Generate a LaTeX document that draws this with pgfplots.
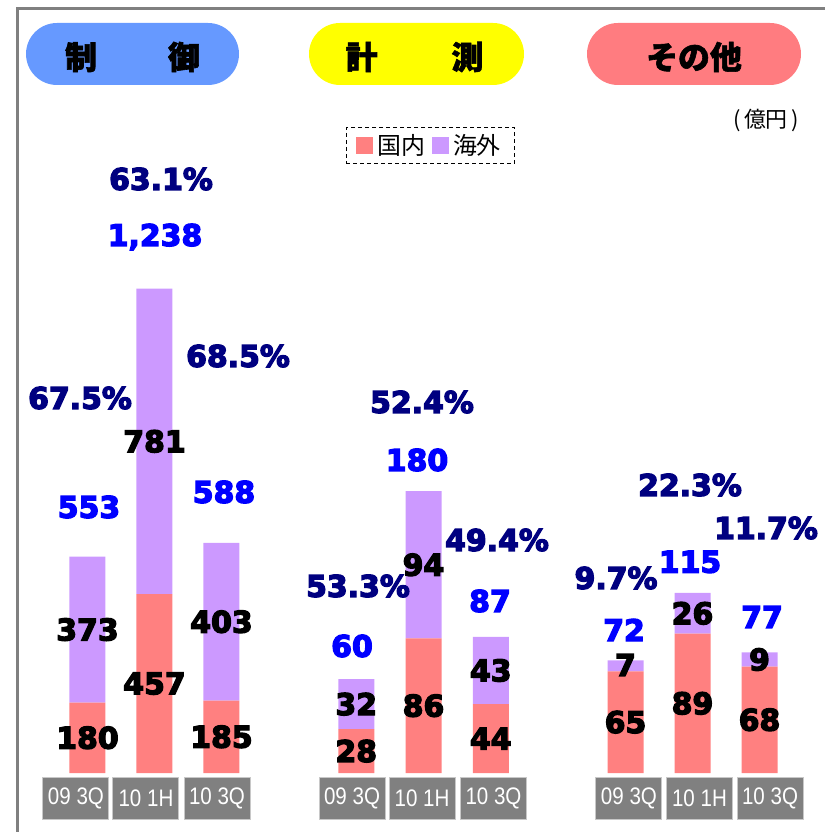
\documentclass[border=0pt]{standalone}
\usepackage{pgfplots}
\pgfplotsset{compat=1.18}
\usepackage{fontspec}
\setmainfont{Liberation Sans}
\newfontfamily\numfont{DejaVu Sans}
\newfontfamily\cjk{Noto Sans CJK JP}
\newfontfamily\narrow{Liberation Sans}[FakeStretch=0.86]
\definecolor{dom}{HTML}{FF8080}
\definecolor{ovs}{HTML}{CC99FF}
\definecolor{pct}{HTML}{000080}
\definecolor{tot}{HTML}{0000FF}
\definecolor{pillblue}{HTML}{6699FF}
\definecolor{pillyellow}{HTML}{FFFF00}
\definecolor{pillpink}{HTML}{FF7C80}
\definecolor{framegray}{HTML}{808080}
\definecolor{boxgray}{HTML}{808080}
\definecolor{boxedge}{HTML}{C8C8C8}
\newcommand{\nf}{\numfont\bfseries\fontsize{30}{31}\selectfont}
% heavier strokes: fill + stroke text rendering (stroke colour given explicitly)
\newcommand{\hv}[2][0 0 0]{\special{pdf:literal direct 2 Tr 1.3 w #1 RG}#2\special{pdf:literal direct 0 Tr}}
\newcommand{\hvc}[1]{\special{pdf:literal direct 2 Tr 0.6 w 0 0 0 RG}#1\special{pdf:literal direct 0 Tr}}
\newcommand{\hvb}[1]{\hv[0 0 1]{#1}}
\newcommand{\hvn}[1]{\hv[0 0 0.502]{#1}}

\tikzset{seglab/.style={font=\nf, text=black, anchor=center, inner sep=0pt}}
\pgfplotsset{
  geom/.style={
    scale only axis, anchor=south west,
    height=587bp, xmin=-1, xmax=3, ymin=0, clip=false,
  },
  grp/.style={
    geom,
    ybar stacked, bar width=36bp,
    axis line style={draw=none},
    tick style={draw=none},
    major tick length=0pt,
    ytick=\empty,
    xticklabels={09 3Q,10 1H,10 3Q},
    xticklabel style={anchor=north, fill=boxgray, draw=boxedge, line width=1bp,
      text=white, minimum width=66bp, minimum height=42bp, inner sep=0pt,
      outer sep=0pt, yshift=-4bp, font=\narrow\fontsize{24}{24}\selectfont},
  },
  ovl/.style={geom, hide axis},
}

\begin{document}
\begin{tikzpicture}
\useasboundingbox (0bp,0bp) rectangle (825bp,832bp);

% ---------- Control (制御) ----------
\begin{axis}[grp, at={(20.5bp,59bp)}, width=268bp, ymax=1500,
  xtick={-0.172,0.873,1.933},
  legend style={at={(1.530,1.069)}, anchor=center, draw=black,
    dash pattern=on 4bp off 3bp, line width=0.8bp, legend columns=2,
    font=\cjk\fontsize{24}{24}\selectfont, inner xsep=10bp, inner ysep=5bp,
    nodes={inner xsep=4bp, inner ysep=2bp},
    /tikz/every even column/.append style={column sep=3bp}},
]
\addplot[fill=dom, draw=none, legend image code/.code={\fill[dom] (0bp,-8.5bp) rectangle (17bp,8.5bp);}]
  coordinates {(0,180) (1,457) (2,185)};
\addplot[fill=ovs, draw=none, legend image code/.code={\fill[ovs] (0bp,-8.5bp) rectangle (17bp,8.5bp);}]
  coordinates {(0,373) (1,781) (2,403)};
\legend{国内,海外}
\end{axis}
\begin{axis}[ovl, at={(20.5bp,59bp)}, width=268bp, ymax=1500]
\node[seglab] at (axis cs:0,90) {\hv{180}};
\node[seglab] at (axis cs:0,366.5) {\hv{373}};
\node[seglab] at (axis cs:1,228.5) {\hv{457}};
\node[seglab] at (axis cs:1,847.5) {\hv{781}};
\node[seglab] at (axis cs:2,92.5) {\hv{185}};
\node[seglab] at (axis cs:2,386.5) {\hv{403}};
\end{axis}

% ---------- Measurement (計測) ----------
\begin{axis}[grp, at={(289bp,59bp)}, width=269bp, ymax=375,
  xtick={-0.063,0.978,2.041},
]
\addplot[fill=dom, draw=none] coordinates {(0,28) (1,86) (2,44)};
\addplot[fill=ovs, draw=none] coordinates {(0,32) (1,94) (2,43)};
\end{axis}
\begin{axis}[ovl, at={(289bp,59bp)}, width=269bp, ymax=375]
\node[seglab] at (axis cs:0,14) {\hv{28}};
\node[seglab] at (axis cs:0,44) {\hv{32}};
\node[seglab] at (axis cs:1,43) {\hv{86}};
\node[seglab] at (axis cs:1,133) {\hv{94}};
\node[seglab] at (axis cs:2,22) {\hv{44}};
\node[seglab] at (axis cs:2,65.5) {\hv{43}};
\end{axis}

% ---------- Other (その他) ----------
\begin{axis}[grp, at={(558.5bp,59bp)}, width=268bp, ymax=375,
  xtick={0.052,1.104,2.157},
]
\addplot[fill=dom, draw=none] coordinates {(0,65) (1,89) (2,68)};
\addplot[fill=ovs, draw=none] coordinates {(0,7) (1,26) (2,9)};
\end{axis}
\begin{axis}[ovl, at={(558.5bp,59bp)}, width=268bp, ymax=375]
\node[seglab] at (axis cs:0,32.5) {\hv{65}};
\node[seglab] at (axis cs:0,69) {\hv{7}};
\node[seglab] at (axis cs:1,44.5) {\hv{89}};
\node[seglab] at (axis cs:1,102) {\hv{26}};
\node[seglab] at (axis cs:2,34) {\hv{68}};
\node[seglab] at (axis cs:2,72.5) {\hv{9}};
\end{axis}

% ---------- decorations in image pixel coordinates ----------
\begin{scope}[x=1bp, y=-1bp, shift={(0bp,832bp)}]
  \draw[framegray, line width=3bp] (17.5,840) -- (17.5,8.5) -- (830,8.5);
  \fill[pillblue, rounded corners=31bp] (26,23) rectangle (239,85);
  \fill[pillyellow, rounded corners=31bp] (309,23) rectangle (524,85);
  \fill[pillpink, rounded corners=31bp] (587,23) rectangle (801,85);
  \node[font=\cjk\bfseries\fontsize{32}{32}\selectfont, inner sep=0pt] at (132.5,57) {\hvc{制\hspace{71bp}御}};
  \node[font=\cjk\bfseries\fontsize{32}{32}\selectfont, inner sep=0pt] at (414.5,57) {\hvc{計\hspace{74bp}測}};
  \node[font=\cjk\bfseries\fontsize{32}{32}\selectfont, inner sep=0pt] at (694,57) {\hvc{その他}};
  \node[font=\cjk\fontsize{22}{22}\selectfont, inner sep=0pt] at (766,120) {(\,億円\,)};

  % totals and overseas ratios
  \node[font=\nf, text=tot] at (89,507) {\hvb{553}};
  \node[font=\nf, text=pct] at (80,398) {\hvn{67.5\%}};
  \node[font=\nf, text=tot] at (155,237) {\hvb{1,238}};
  \node[font=\nf, text=pct] at (161,179) {\hvn{63.1\%}};
  \node[font=\nf, text=tot] at (224,492) {\hvb{588}};
  \node[font=\nf, text=pct] at (238,356) {\hvn{68.5\%}};

  \node[font=\nf, text=tot] at (352,646) {\hvb{60}};
  \node[font=\nf, text=pct] at (358,586) {\hvn{53.3\%}};
  \node[font=\nf, text=tot] at (417,460) {\hvb{180}};
  \node[font=\nf, text=pct] at (422,402) {\hvn{52.4\%}};
  \node[font=\nf, text=tot] at (490,601) {\hvb{87}};
  \node[font=\nf, text=pct] at (497,540) {\hvn{49.4\%}};

  \node[font=\nf, text=tot] at (624,630) {\hvb{72}};
  \node[font=\nf, text=pct] at (616,578) {\hvn{9.7\%}};
  \node[font=\nf, text=tot] at (690,562) {\hvb{115}};
  \node[font=\nf, text=pct] at (690,485) {\hvn{22.3\%}};
  \node[font=\nf, text=tot] at (762,617) {\hvb{77}};
  \node[font=\nf, text=pct] at (766,528) {\hvn{11.7\%}};
\end{scope}
\end{tikzpicture}
\end{document}
